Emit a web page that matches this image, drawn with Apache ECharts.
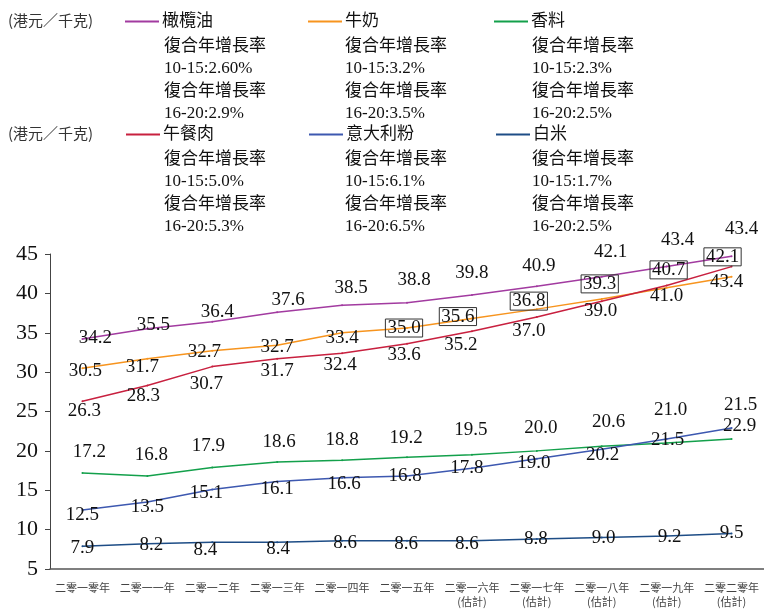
<!DOCTYPE html>
<html>
<head>
<meta charset="utf-8">
<script src="https://cdn.jsdelivr.net/npm/echarts@6/dist/echarts.min.js"></script>
<style>
  html, body { margin: 0; padding: 0; background: #fff; }
  #chart { width: 764px; height: 609px; }
</style>
</head>
<body>
<div id="chart"></div>
<script>
// categories / tick labels
const years = ['二零一零年', '二零一一年', '二零一二年', '二零一三年', '二零一四年', '二零一五年',
  '二零一六年', '二零一七年', '二零一八年', '二零一九年', '二零二零年'];
const estimateTag = '(估計)';
const firstEstimate = 6;

// series values (港元／千克)
const oliveOil = [34.2, 35.5, 36.4, 37.6, 38.5, 38.8, 39.8, 40.9, 42.1, 43.4, 44.7];
const milk = [30.5, 31.7, 32.7, 33.4, 35.0, 35.6, 36.8, 38.0, 39.3, 40.7, 42.1];
const spices = [17.2, 16.8, 17.9, 18.6, 18.8, 19.2, 19.5, 20.0, 20.6, 21.0, 21.5];
const luncheonMeat = [26.3, 28.3, 30.7, 31.7, 32.4, 33.6, 35.2, 37.0, 39.0, 41.0, 43.4];
const pasta = [12.5, 13.5, 15.1, 16.1, 16.6, 16.8, 17.8, 19.0, 20.2, 21.5, 22.9];
const rice = [7.9, 8.2, 8.4, 8.4, 8.6, 8.6, 8.6, 8.8, 9.0, 9.2, 9.5];

// label texts as printed on the source (a few do not match the plotted value)
const oliveOilText = ['34.2', '35.5', '36.4', '37.6', '38.5', '38.8', '39.8', '40.9', '42.1', '43.4', '43.4'];
const milkText = ['30.5', '31.7', '32.7', '32.7', '33.4', '35.0', '35.6', '36.8', '39.3', '40.7', '42.1'];

// legend texts
const seriesNames = ['橄欖油', '牛奶', '香料', '午餐肉', '意大利粉', '白米'];
const cagr1015 = ['2.60%', '3.2%', '2.3%', '5.0%', '6.1%', '1.7%'];
const cagr1620 = ['2.9%', '3.5%', '2.5%', '5.3%', '6.5%', '2.5%'];
const unitText = '(港元／千克)';

const colors = ['#A23BA0', '#F7941E', '#13A04B', '#C8203F', '#3D58B0', '#1E4D86'];

// label nudges in px [dx, dy] from each point
const labelShift = {
  oliveOil: [[13, -1], [6, -4], [5, -10], [11, -12], [9, -17], [7, -23], [0, -22], [2, -20], [9, -25], [11, -27], [10, -27]],
  milk: [[3, 3], [-5, 8], [-8, 1], [0, 2], [0, 5], [-3, 0], [-14, -2], [-8, -8], [-2, -15], [2, -18], [-9, -20]],
  spices: [[7, -21], [4, -21], [-4, -21], [2, -20], [0, -20], [-1, -19], [-1, -25], [4, -23], [7, -24], [4, -33], [9, -34]],
  luncheonMeat: [[2, 10], [-4, 11], [-6, 17], [0, 12], [-2, 12], [-3, 11], [-11, 14], [-8, 14], [-1, 10], [0, 11], [-5, 15]],
  pasta: [[0, 5], [0, 5], [-6, 3.5], [0, 7.5], [2, 6], [-2, 0], [-5, 0], [-3, 4], [1, 6], [1, 1], [8, -2]],
  rice: [[0, 1.5], [4, 1.6], [-7, 7.5], [1, 6.5], [3, 2.5], [-1, 3], [-5, 3], [-1, 0], [2, 0.7], [3, 1], [0, -1]],
};

const serif = "'Liberation Serif', 'Noto Sans CJK TC', serif";
const cjk = "'Noto Sans CJK TC', sans-serif";

const makeSeries = (idx, values, shift, texts, boxedFrom) => ({
  name: seriesNames[idx],
  type: 'line',
  symbol: 'circle',
  symbolSize: 2,
  lineStyle: { width: 1.5, color: colors[idx] },
  itemStyle: { color: colors[idx] },
  data: values.map((v, i) => {
    const item = { value: v, label: { offset: shift[i] } };
    if (boxedFrom !== undefined && i >= boxedFrom) {
      item.label.borderColor = '#333';
      item.label.borderWidth = 1;
      item.label.padding = [0, 2, -1, 2];
    }
    return item;
  }),
  label: {
    show: true,
    position: 'inside',
    color: '#111',
    fontFamily: serif,
    fontSize: 19,
    formatter: (p) => (texts ? texts[p.dataIndex] : p.value.toFixed(1)),
  },
  z: 3,
});

const chart = echarts.init(document.getElementById('chart'));

const legendPos = [[125, 13], [308, 13], [494, 13], [126, 126], [309, 126], [496, 126]];
const blockX = [164, 345, 532, 164, 345, 532];
const blockY = [35, 35, 35, 148, 148, 148];

chart.setOption({
  animation: false,
  backgroundColor: '#fff',
  grid: { left: 50, top: 254, width: 715, height: 320 },
  legend: seriesNames.map((name, k) => ({
    data: [name],
    left: legendPos[k][0],
    top: legendPos[k][1],
    icon: 'rect',
    itemWidth: 34,
    itemHeight: 2,
    selectedMode: false,
    padding: 0,
    textStyle: { fontFamily: serif, fontSize: 17, color: '#111', padding: [0, 0, 0, -2] },
  })),
  graphic: [
    { type: 'text', left: 8, top: 13, style: { text: unitText, font: '15px ' + cjk, fill: '#333' } },
    { type: 'text', left: 8, top: 126, style: { text: unitText, font: '15px ' + cjk, fill: '#333' } },
  ].concat(seriesNames.map((n, k) => ({
    type: 'text',
    left: blockX[k],
    top: blockY[k],
    style: {
      text: '復合年增長率\n10-15:' + cagr1015[k] + '\n復合年增長率\n16-20:' + cagr1620[k],
      font: '17px ' + serif,
      lineHeight: 22.5,
      fill: '#111',
    },
  }))),
  xAxis: {
    type: 'category',
    data: years,
    axisLine: { lineStyle: { color: '#555', width: 1.5 } },
    axisTick: { show: false },
    axisLabel: {
      interval: 0,
      margin: 12,
      fontSize: 11,
      lineHeight: 14,
      fontFamily: cjk,
      color: '#444',
      formatter: (v, i) => (i >= firstEstimate ? v + '\n' + estimateTag : v),
    },
  },
  yAxis: {
    type: 'value',
    min: 5,
    max: 45,
    interval: 5,
    splitLine: { show: false },
    axisLine: { show: true, lineStyle: { color: '#444', width: 1 } },
    axisTick: { show: true, length: 5, lineStyle: { color: '#444' } },
    axisLabel: { fontSize: 22, fontFamily: serif, color: '#111', margin: 12 },
  },
  series: [
    makeSeries(0, oliveOil, labelShift.oliveOil, oliveOilText),
    makeSeries(1, milk, labelShift.milk, milkText, 5),
    makeSeries(2, spices, labelShift.spices),
    makeSeries(3, luncheonMeat, labelShift.luncheonMeat),
    makeSeries(4, pasta, labelShift.pasta),
    makeSeries(5, rice, labelShift.rice),
  ],
});
</script>
</body>
</html>
